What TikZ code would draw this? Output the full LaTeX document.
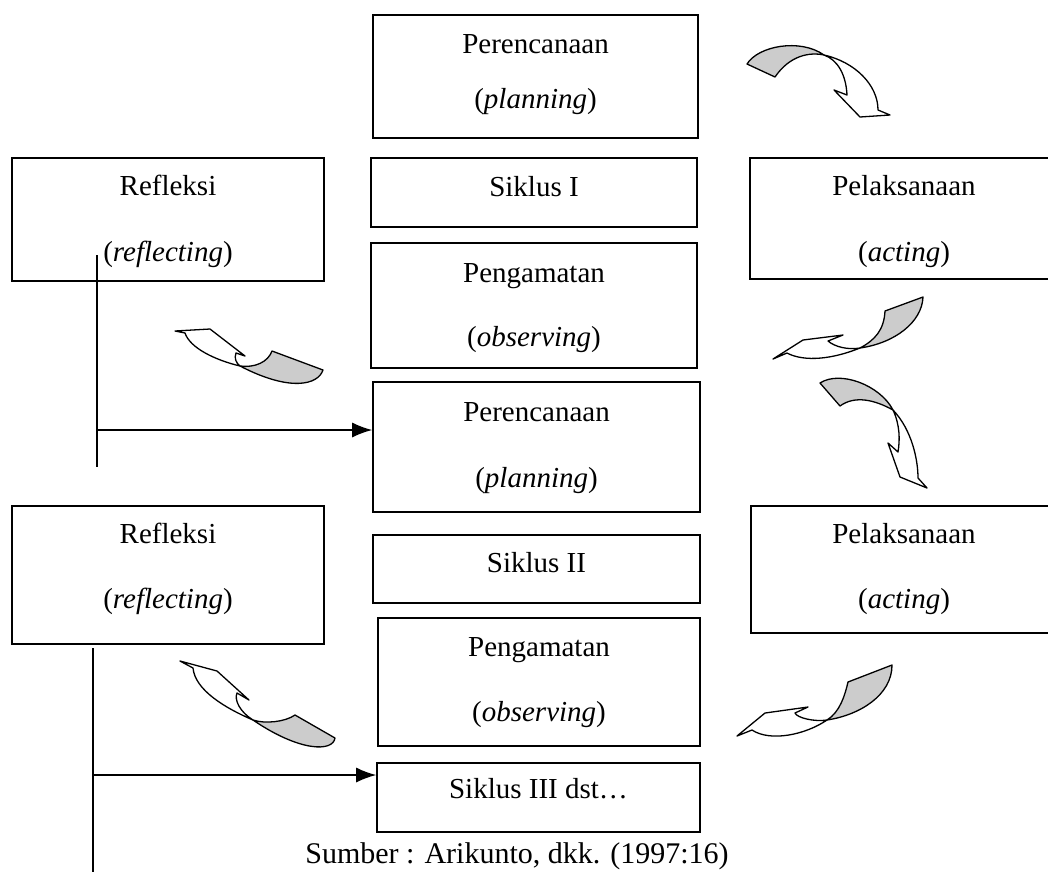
\documentclass[tikz,border=0pt]{standalone}
\usepackage{fontspec}
\setmainfont{Liberation Serif}
\usetikzlibrary{arrows.meta}
\begin{document}
\begin{tikzpicture}[x=1pt,y=-1pt,
 box/.style={draw, line width=1.6pt, rectangle, inner sep=0pt},
 txt/.style={anchor=base, inner sep=0pt, font=\fontsize{29}{31}\selectfont},
 flow/.style={line width=1.4pt, -{Latex[length=20pt,width=15pt]}},
 bar/.style={line width=1.4pt},
 cw/.style={draw, line width=1.3pt, fill=white, line join=round},
 cg/.style={draw, line width=1.3pt, fill=black!20, line join=round}]
\useasboundingbox (0,0) rectangle (1048,871);
\clip (0,0) rectangle (1048,871);
\fill[white] (0,0) rectangle (1048,871);

% boxes
\node[box, minimum width=325pt, minimum height=123pt] (plan1) at (535.5,76.5) {};
\node[box, minimum width=326pt, minimum height=69pt] (sik1) at (534,192.5) {};
\node[box, minimum width=326pt, minimum height=125pt] (obs1) at (534,305.5) {};
\node[box, minimum width=327pt, minimum height=130pt] (plan2) at (536.5,447) {};
\node[box, minimum width=327pt, minimum height=68pt] (sik2) at (536.5,569) {};
\node[box, minimum width=322pt, minimum height=128pt] (obs2) at (539,682) {};
\node[box, minimum width=323pt, minimum height=69pt] (sik3) at (538.5,797.5) {};
\node[box, minimum width=312pt, minimum height=123pt] (refl1) at (168,219.5) {};
\node[box, minimum width=310pt, minimum height=121pt] (act1) at (905,218.5) {};
\node[box, minimum width=312pt, minimum height=138pt] (refl2) at (168,575) {};
\node[box, minimum width=309pt, minimum height=127pt] (act2) at (905.5,569.5) {};

% texts
\node[txt] (t1a) at (535.5,53) {Perencanaan};
\node[txt] (t1b) at (535.5,108) {(\textit{planning})};
\node[txt] (t2) at (534,196) {Siklus I};
\node[txt] (t3a) at (534,282) {Pengamatan};
\node[txt] (t3b) at (534,346) {(\textit{observing})};
\node[txt] (t4a) at (536.5,421) {Perencanaan};
\node[txt] (t4b) at (536.5,487) {(\textit{planning})};
\node[txt] (t5) at (536.5,572) {Siklus II};
\node[txt] (t6a) at (539,656) {Pengamatan};
\node[txt] (t6b) at (539,721) {(\textit{observing})};
\node[txt] (t7) at (538.5,798) {Siklus III dst…};
\node[txt] (r1a) at (168,195) {Refleksi};
\node[txt] (r1b) at (168,261) {(\textit{reflecting})};
\node[txt] (a1a) at (904,195) {Pelaksanaan};
\node[txt] (a1b) at (904,261) {(\textit{acting})};
\node[txt] (r2a) at (168,543) {Refleksi};
\node[txt] (r2b) at (168,608) {(\textit{reflecting})};
\node[txt] (a2a) at (904,543) {Pelaksanaan};
\node[txt] (a2b) at (904,608) {(\textit{acting})};
\node[anchor=base, inner sep=0pt, font=\fontsize{30}{32}\selectfont] (cap) at (517,863) {Sumber : Arikunto, dkk. (1997:16)};

% connector lines
\coordinate (v1top) at (97,255);
\coordinate (v1bot) at (97,467);
\coordinate (v1mid) at (97,430);
\draw[bar] (v1top) -- (v1bot);
\draw[flow] (v1mid) -- (plan2.west |- v1mid);
\coordinate (v2top) at (93,648);
\coordinate (v2bot) at (93,890);
\coordinate (v2mid) at (93,775);
\draw[bar] (v2top) -- (v2bot);
\draw[flow] (v2mid) -- (sik3.west |- v2mid);

% curved arrow A (planning -> acting, top right)
\draw[cg] (747,64) .. controls (758,46) and (800,38) .. (824,55)
  .. controls (810,52) and (790,55) .. (775,77) -- cycle;
\draw[cw] (824,55) .. controls (855,62) and (878,85) .. (878,110)
  -- (890,115) -- (860,117) -- (834,90) -- (847,95)
  .. controls (846,75) and (838,60) .. (824,55) -- cycle;

% curved arrow C (acting -> observing, first cycle)
\draw[cg] (860,348) .. controls (875,340) and (884,330) .. (885,311)
  -- (923,297) .. controls (922,322) and (895,343) .. (860,348) -- cycle;
\draw[cw] (773,359) -- (803,340) -- (843,335) -- (828,341)
  .. controls (835,347) and (848,350) .. (860,348)
  .. controls (825,362) and (800,360) .. (787,353) -- cycle;

% curved arrow B (observing -> reflecting, first cycle)
\draw[cg] (240,366) .. controls (255,368) and (268,362) .. (272,351)
  -- (323,370) .. controls (318,385) and (290,392) .. (240,366) -- cycle;
\draw[cw] (175,331) -- (210,329) -- (245,356) -- (236,353)
  .. controls (234,358) and (236,363) .. (240,366)
  .. controls (215,360) and (190,348) .. (185,333) -- cycle;

% curved arrow D (planning -> acting, second cycle)
\draw[cg] (820,383) .. controls (840,370) and (880,385) .. (893,410)
  .. controls (875,400) and (855,395) .. (840,406) -- cycle;
\draw[cw] (893,410) .. controls (912,430) and (918,460) .. (918,478)
  -- (927,488) -- (900,477) -- (888,443) -- (898,452)
  .. controls (900,440) and (900,425) .. (893,410) -- cycle;

% curved arrow F (acting -> observing, second cycle)
\draw[cg] (827,720) .. controls (840,712) and (845,695) .. (848,682)
  -- (892,665) .. controls (892,695) and (860,715) .. (827,720) -- cycle;
\draw[cw] (737,736) -- (765,713) -- (808,707) -- (795,713)
  .. controls (797,718) and (815,722) .. (827,720)
  .. controls (805,735) and (770,742) .. (752,730) -- cycle;

% curved arrow E (observing -> reflecting, second cycle)
\draw[cg] (253,720) .. controls (265,724) and (285,722) .. (295,715)
  -- (335,738) .. controls (333,752) and (300,752) .. (253,720) -- cycle;
\draw[cw] (180,661) -- (217,671) -- (249,700) -- (237,693)
  .. controls (234,700) and (240,712) .. (253,720)
  .. controls (225,708) and (195,690) .. (193,668) -- cycle;
\end{tikzpicture}
\end{document}
